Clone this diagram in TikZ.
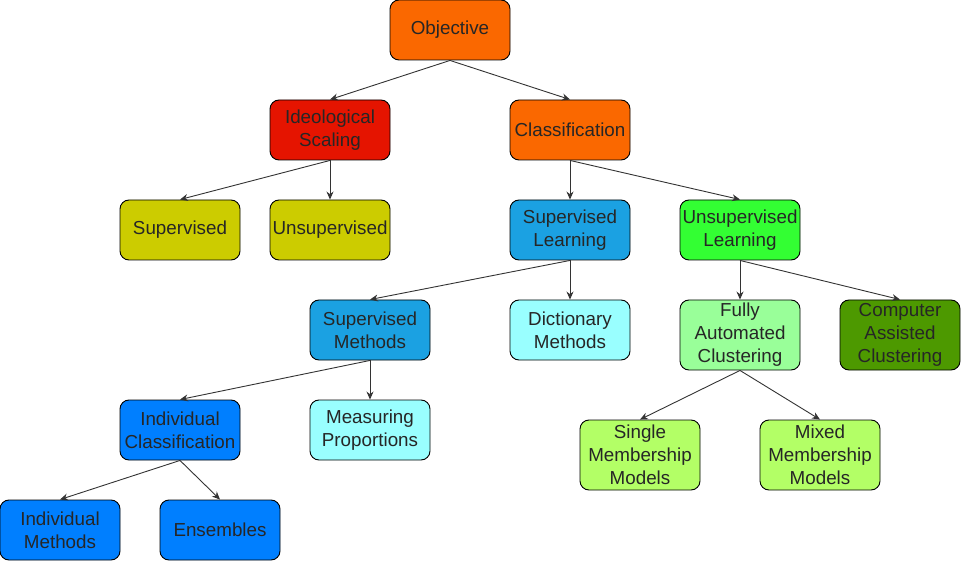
\documentclass[tikz,border=0pt]{standalone}
\usepackage{fontspec}
\setmainfont{Liberation Sans}
\usetikzlibrary{arrows.meta}
\definecolor{corange}{HTML}{FA6800}
\definecolor{cred}{HTML}{E51400}
\definecolor{cyell}{HTML}{CCCC00}
\definecolor{cblue}{HTML}{1BA1E2}
\definecolor{cgreen}{HTML}{33FF33}
\definecolor{ccyan}{HTML}{99FFFF}
\definecolor{clgreen}{HTML}{99FF99}
\definecolor{cdgreen}{HTML}{4D9900}
\definecolor{clime}{HTML}{B3FF66}
\definecolor{cazure}{HTML}{007FFF}
\definecolor{cedge}{HTML}{333333}
\tikzset{
  box/.style={draw=black, line width=0.9pt, rounded corners=9pt, minimum width=120pt, minimum height=60pt,
    inner sep=0pt, align=center, font=\fontsize{18.8}{23}\selectfont, text=black!85},
  tall/.style={minimum height=70pt},
  edge/.style={draw=cedge, line width=0.9pt, -{Stealth[length=8pt,width=7pt]}}
}
\begin{document}
\begin{tikzpicture}[x={(1pt,0)}, y={(0,-1pt)}]
\useasboundingbox (0,0) rectangle (961,561);
\node[box, fill=corange] (obj) at (450,30) {Objective};
\node[box, fill=cred] (ideo) at (330,130) {Ideological\\Scaling};
\node[box, fill=corange] (cls) at (570,130) {Classification};
\node[box, fill=cyell] (sup) at (180,230) {Supervised};
\node[box, fill=cyell] (unsup) at (330,230) {Unsupervised};
\node[box, fill=cblue] (supl) at (570,230) {Supervised\\Learning};
\node[box, fill=cgreen] (unsupl) at (740,230) {Unsupervised\\Learning};
\node[box, fill=cblue] (supm) at (370,330) {Supervised\\Methods};
\node[box, fill=ccyan] (dict) at (570,330) {Dictionary\\Methods};
\node[box, tall, fill=clgreen] (fac) at (740,335) {Fully\\Automated\\Clustering};
\node[box, tall, fill=cdgreen] (cac) at (900,335) {Computer\\Assisted\\Clustering};
\node[box, fill=cazure] (indc) at (180,430) {Individual\\Classification};
\node[box, fill=ccyan] (meas) at (370,430) {Measuring\\Proportions};
\node[box, tall, fill=clime] (single) at (640,455) {Single\\Membership\\Models};
\node[box, tall, fill=clime] (mixed) at (820,455) {Mixed\\Membership\\Models};
\node[box, fill=cazure] (indm) at (60,530) {Individual\\Methods};
\node[box, fill=cazure] (ens) at (220,530) {Ensembles};
\draw[edge] (obj.south) -- (ideo.north);
\draw[edge] (obj.south) -- (cls.north);
\draw[edge] (ideo.south) -- (sup.north);
\draw[edge] (ideo.south) -- (unsup.north);
\draw[edge] (cls.south) -- (supl.north);
\draw[edge] (cls.south) -- (unsupl.north);
\draw[edge] (supl.south) -- (supm.north);
\draw[edge] (supl.south) -- (dict.north);
\draw[edge] (unsupl.south) -- (fac.north);
\draw[edge] (unsupl.south) -- (cac.north);
\draw[edge] (supm.south) -- (indc.north);
\draw[edge] (supm.south) -- (meas.north);
\draw[edge] (fac.south) -- (single.north);
\draw[edge] (fac.south) -- (mixed.north);
\draw[edge] (indc.south) -- (indm.north);
\draw[edge] (indc.south) -- (ens.north);
\end{tikzpicture}
\end{document}
